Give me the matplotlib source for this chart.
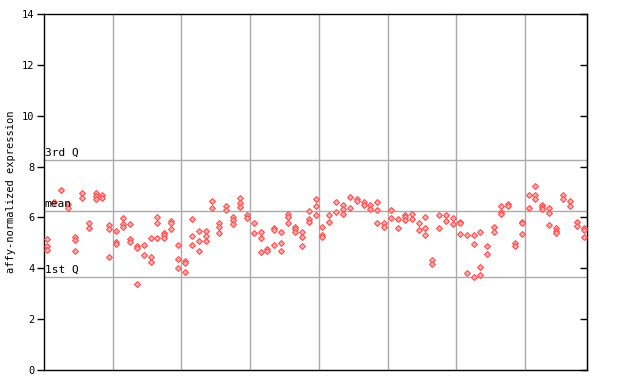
import numpy as np
import matplotlib
matplotlib.use("Agg")
import matplotlib.pyplot as plt

# expression values per sample (replicates)
samples = [
    [5.15, 4.88, 4.72], [6.62], [7.08], [6.53, 6.36], [5.24, 5.11, 4.68],
    [6.95, 6.75], [5.77, 5.57], [6.95, 6.84, 6.72], [6.9, 6.75], [5.7, 5.53, 4.43],
    [5.47, 5.05, 4.95], [5.96, 5.73, 5.64], [5.74, 5.14, 5.05], [4.88, 4.78, 3.37], [4.9, 4.52],
    [5.21, 4.43, 4.23], [6.0, 5.77, 5.18], [5.4, 5.31, 5.21], [5.87, 5.79, 5.53], [4.9, 4.35, 4.0],
    [4.3, 4.19, 3.84], [5.92, 5.27, 4.9], [5.47, 5.07, 4.68], [5.47, 5.27, 5.07], [6.63, 6.36],
    [5.8, 5.61, 5.39], [6.45, 6.29], [6.0, 5.9, 5.74], [6.75, 6.58, 6.42], [6.09, 5.99],
    [5.8, 5.37], [5.43, 5.21, 4.64], [4.76, 4.68], [5.57, 5.5, 4.9], [5.43, 4.98, 4.68],
    [6.12, 6.03, 5.77], [5.64, 5.53, 5.44], [5.43, 5.22, 4.87], [6.24, 5.92, 5.83], [6.71, 6.45, 6.08],
    [5.61, 5.31, 5.22], [6.08, 5.83], [6.61, 6.23], [6.5, 6.32, 6.12], [6.82, 6.39],
    [6.74, 6.63], [6.59, 6.47], [6.49, 6.33], [6.59, 6.28, 5.77], [5.8, 5.62],
    [6.29, 5.99], [5.94, 5.57], [6.1, 6.0, 5.91], [6.12, 5.92], [5.8, 5.52],
    [6.0, 5.57, 5.3], [4.33, 4.18], [6.08, 5.6], [6.1, 5.87], [5.99, 5.75],
    [5.83, 5.77, 5.34], [5.3, 3.8], [5.3, 4.94, 3.64], [5.41, 4.06, 3.75], [4.88, 4.55],
    [5.61, 5.44], [6.45, 6.23, 6.12], [6.51, 6.45], [4.98, 4.88], [5.83, 5.77, 5.34],
    [6.88, 6.36], [7.24, 6.88, 6.71], [6.5, 6.41, 6.32], [6.36, 6.17, 5.7], [5.57, 5.48, 5.37],
    [6.88, 6.71], [6.63, 6.44], [5.83, 5.66], [5.6, 5.5, 5.22],
]
q1 = 3.65
mean_val = 6.24
q3 = 8.26
yticks = [0, 2, 4, 6, 8, 10, 12, 14]

mono = "DejaVu Sans Mono"

fig = plt.figure(figsize=(6.4, 3.84), dpi=100)
ax = fig.add_axes([44 / 640, 14 / 384, 543 / 640, 356 / 384])

xs = []
ys = []
for i, vals in enumerate(samples):
    for v in vals:
        xs.append(i + 0.5)
        ys.append(v)
ax.plot(xs, ys, linestyle="none", marker="D", markersize=3.0,
        markerfacecolor="#ffb0b0", markeredgecolor="#ff4d4d",
        markeredgewidth=0.8, zorder=3)

n = len(samples)
ax.set_xlim(0, n)
ax.set_ylim(0, 14)

# group separators
for xv in range(10, n, 10):
    ax.axvline(xv, color="#aaaaaa", lw=1, zorder=1)

# quartile / mean lines
for yv, lab in [(q3, "3rd Q"), (mean_val, "mean"), (q1, "1st Q")]:
    ax.axhline(yv, color="#aaaaaa", lw=1, zorder=1)
    ax.text(0.1, yv + 0.1, lab, fontsize=8, family=mono,
            ha="left", va="bottom", zorder=4)

ax.set_xticks([])
ax.set_yticks(yticks)
ax.set_yticklabels([str(t) for t in yticks], family=mono, fontsize=7.5)
ax.tick_params(axis="y", direction="out", length=5, width=1, pad=2)
ax.set_ylabel("affy-normalized expression", family=mono, fontsize=7.5)

# right-side ticks pointing inward, no labels
right = ax.secondary_yaxis("right")
right.set_yticks(yticks)
right.tick_params(axis="y", direction="in", length=5, width=1, labelright=False)

for sp in ax.spines.values():
    sp.set_color("black")
    sp.set_linewidth(1)

fig.savefig("out.png", dpi=100)
